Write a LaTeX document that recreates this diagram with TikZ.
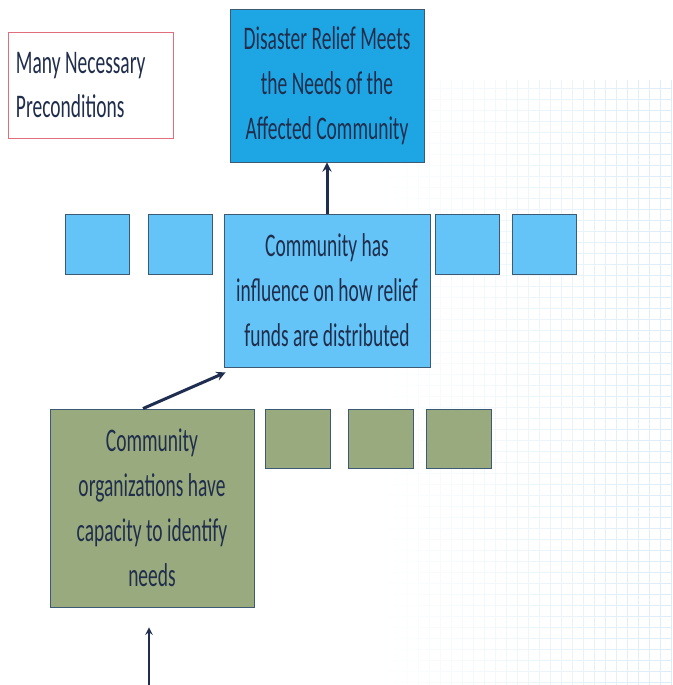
\documentclass[tikz,border=0pt]{standalone}
\usepackage{fontspec}
\setmainfont{Carlito}[FakeStretch=0.59]
\usepackage{tikz}
\usetikzlibrary{positioning,fadings}

\definecolor{navytext}{RGB}{32,46,76}
\definecolor{navyline}{RGB}{30,45,80}
\definecolor{boxline}{RGB}{60,90,115}
\definecolor{goalblue}{RGB}{30,166,228}
\definecolor{lightblue}{RGB}{100,195,247}
\definecolor{sage}{RGB}{153,170,127}
\definecolor{pinkline}{RGB}{225,110,125}
\definecolor{gridblue}{RGB}{212,232,245}

\tikzfading[name=gridfade, left color=transparent!100, right color=transparent!20]

\begin{document}
\begin{tikzpicture}[->, >=stealth, x=1pt, y=-1pt,
  box/.style={draw=boxline, line width=0.9pt, text=navytext, align=center, inner sep=0pt,
    font=\fontsize{33}{45}\selectfont},
  note node/.style={draw=pinkline, line width=1pt, fill=white, text=navytext, align=flush left,
    text width=149pt, inner sep=8pt, minimum height=105pt, font=\fontsize{33}{44}\selectfont},
  goal node/.style={box, fill=goalblue, minimum width=194pt, minimum height=153pt},
  blue node/.style={box, fill=lightblue, minimum width=206pt, minimum height=153pt},
  blue small/.style={box, fill=lightblue, minimum width=64pt, minimum height=60pt},
  green node/.style={box, fill=sage, minimum width=204pt, minimum height=198pt},
  green small/.style={box, fill=sage, minimum width=65pt, minimum height=59pt},
  arrow/.style={navyline, line width=3pt}]

\useasboundingbox (0,0) rectangle (672,685);
% faint grid in the background
\draw[-, gridblue, line width=0.6pt, path fading=gridfade] (380,80) grid[step=11pt] (672,685);

\node[note node] (pre) at (90.5,85.5) {Many Necessary\\Preconditions};
\node[goal node] (goal) at (327,85.5) {Disaster Relief Meets\\the Needs of the\\Affected Community};
\node[blue node] (infl) at (327,290.5) {Community has\\influence on how relief\\funds are distributed};
\node[blue small, below left=0pt and 11pt of infl.north west] (b2) {};
\node[blue small, left=18pt of b2] (b1) {};
\node[blue small, below right=0pt and 5pt of infl.north east] (b3) {};
\node[blue small, right=12pt of b3] (b4) {};

\node[green node] (org) at (152,508) {Community\\organizations have\\capacity to identify\\needs};
\node[green small, below right=0pt and 11pt of org.north east] (g1) {};
\node[green small, right=17pt of g1] (g2) {};
\node[green small, right=12pt of g2] (g3) {};

\coordinate (base) at (149,685);

\path[arrow]
(infl) edge (goal)
([xshift=-9pt]org.north) edge ([xshift=2pt,yshift=-5pt]infl.south west);
\path[arrow, line width=2.2pt]
(base) edge ([xshift=-3pt,yshift=-20pt]org.south);
\end{tikzpicture}
\end{document}
